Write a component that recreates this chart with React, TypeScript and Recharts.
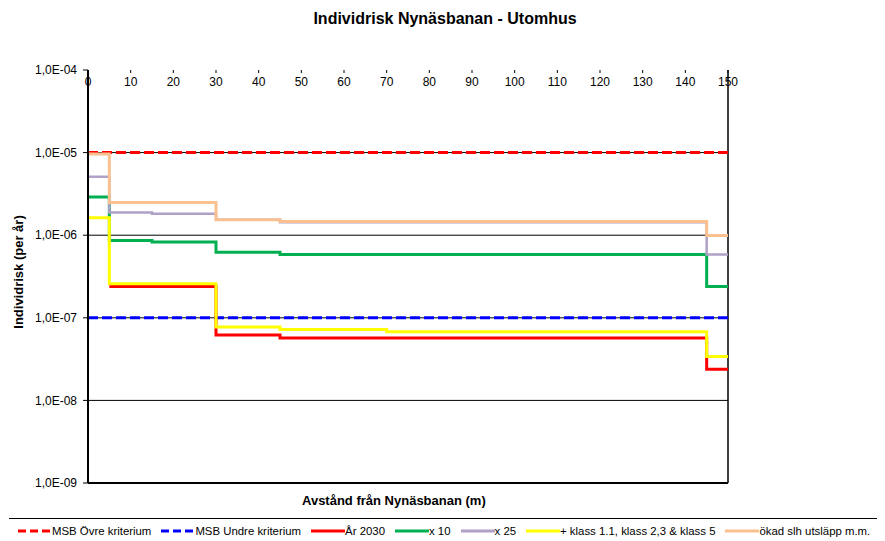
import { LineChart, Line, XAxis, YAxis, CartesianGrid, ReferenceLine } from "recharts";

const X_POINTS = [0, 5, 15, 30, 45, 70, 145, 150];
const MSB_OVRE = [1e-5, 1e-5, 1e-5, 1e-5, 1e-5, 1e-5, 1e-5, 1e-5];
const MSB_UNDRE = [1e-7, 1e-7, 1e-7, 1e-7, 1e-7, 1e-7, 1e-7, 1e-7];
const AR_2030 = [null, 2.4e-7, 2.4e-7, 6.2e-8, 5.7e-8, 5.7e-8, 2.38e-8, 2.38e-8];
const X10 = [2.9e-6, 8.65e-7, 8.3e-7, 6.2e-7, 5.85e-7, 5.85e-7, 2.4e-7, 2.4e-7];
const X25 = [5.1e-6, 1.88e-6, 1.82e-6, 1.54e-6, 1.43e-6, 1.43e-6, 5.85e-7, 5.85e-7];
const KLASS = [1.63e-6, 2.58e-7, 2.58e-7, 7.75e-8, 7.2e-8, 6.8e-8, 3.4e-8, 3.4e-8];
const OKAD = [9.6e-6, 2.48e-6, 2.48e-6, 1.54e-6, 1.47e-6, 1.47e-6, 9.9e-7, 9.9e-7];

const X_TICKS = [0, 10, 20, 30, 40, 50, 60, 70, 80, 90, 100, 110, 120, 130, 140, 150];
const Y_TICKS = [1e-9, 1e-8, 1e-7, 1e-6, 1e-5, 1e-4];
const Y_TICK_LABELS = ["1,0E-09", "1,0E-08", "1,0E-07", "1,0E-06", "1,0E-05", "1,0E-04"];
const GRID_VALUES = [1e-5, 1e-6, 1e-7, 1e-8];

const data = X_POINTS.map((x, i) => ({
  x,
  ovre: MSB_OVRE[i],
  undre: MSB_UNDRE[i],
  ar2030: AR_2030[i],
  x10: X10[i],
  x25: X25[i],
  klass: KLASS[i],
  okad: OKAD[i],
}));

const series = [
  { key: "ovre", name: "MSB Övre kriterium", color: "#FF0000", dash: "10 4", width: 3 },
  { key: "undre", name: "MSB Undre kriterium", color: "#0000FF", dash: "10 4", width: 3 },
  { key: "ar2030", name: "År 2030", color: "#FF0000", width: 3 },
  { key: "x10", name: "x 10", color: "#00B050", width: 3 },
  { key: "x25", name: "x 25", color: "#B1A0C7", width: 2.5 },
  { key: "klass", name: "+ klass 1.1, klass 2,3 & klass 5", color: "#FFFF00", width: 3 },
  { key: "okad", name: "ökad slh utsläpp m.m.", color: "#FAC090", width: 3 },
];

const font = '"Liberation Sans", Arial, sans-serif';

function yLabel(v: number) {
  const i = Y_TICKS.findIndex((t) => Math.abs(Math.log10(t) - Math.log10(v)) < 0.01);
  return i >= 0 ? Y_TICK_LABELS[i] : "";
}

export default function App() {
  return (
    <div style={{ position: "absolute", left: 0, top: 0, width: 885, height: 541, background: "#fff", fontFamily: font }}>
      <div style={{ position: "absolute", top: 10, left: 0, width: 890, textAlign: "center", fontSize: 16, fontWeight: "bold" }}>
        Individrisk Nynäsbanan - Utomhus
      </div>

      <LineChart width={885} height={541} data={data} margin={{ top: 70, right: 157, bottom: 58, left: 0 }}>
        <CartesianGrid vertical={false} horizontalValues={GRID_VALUES} stroke="#000" strokeWidth={1} />
        <XAxis
          dataKey="x"
          type="number"
          domain={[0, 150]}
          ticks={X_TICKS}
          orientation="top"
          mirror
          axisLine={false}
          tickLine={{ stroke: "#000" }}
          tickSize={3}
          tickMargin={4}
          tick={{ fontSize: 12, fill: "#000", fontFamily: font }}
        />
        <YAxis
          type="number"
          scale="log"
          domain={[1e-9, 1e-4]}
          ticks={Y_TICKS}
          allowDataOverflow
          width={88}
          axisLine={{ stroke: "#000", strokeWidth: 2 }}
          tickLine={{ stroke: "#000" }}
          tickSize={5}
          tickMargin={6}
          tickFormatter={yLabel}
          tick={{ fontSize: 12, fill: "#000", fontFamily: font }}
        />
        <ReferenceLine y={1e-9} stroke="#000" strokeWidth={2} />
        <ReferenceLine x={150} stroke="#000" strokeWidth={1.5} />
        {series.map((s) => (
          <Line
            key={s.key}
            dataKey={s.key}
            name={s.name}
            type="stepAfter"
            stroke={s.color}
            strokeWidth={s.width}
            strokeDasharray={s.dash}
            dot={false}
            activeDot={false}
            isAnimationActive={false}
          />
        ))}
      </LineChart>

      <div
        style={{
          position: "absolute",
          left: 18,
          top: 272,
          transform: "translate(-50%, -50%) rotate(-90deg)",
          whiteSpace: "nowrap",
          fontSize: 13,
          fontWeight: "bold",
        }}
      >
        Individrisk (per år)
      </div>

      <div style={{ position: "absolute", top: 493, left: 302, fontSize: 13, fontWeight: "bold", whiteSpace: "nowrap" }}>
        Avstånd från Nynäsbanan (m)
      </div>

      <div style={{ position: "absolute", left: 9, top: 518, width: 868, borderTop: "1.5px solid #000" }} />
      <div
        style={{
          position: "absolute",
          left: 18,
          top: 524,
          display: "flex",
          gap: 10,
          fontSize: 11.4,
          whiteSpace: "nowrap",
          alignItems: "center",
        }}
      >
        {series.map((s) => (
          <div key={s.key} style={{ display: "flex", alignItems: "center" }}>
            <svg width={34} height={14}>
              <line x1={0} y1={7} x2={34} y2={7} stroke={s.color} strokeWidth={3} strokeDasharray={s.dash ? "8 4" : undefined} />
            </svg>
            <span>{s.name}</span>
          </div>
        ))}
      </div>
    </div>
  );
}
